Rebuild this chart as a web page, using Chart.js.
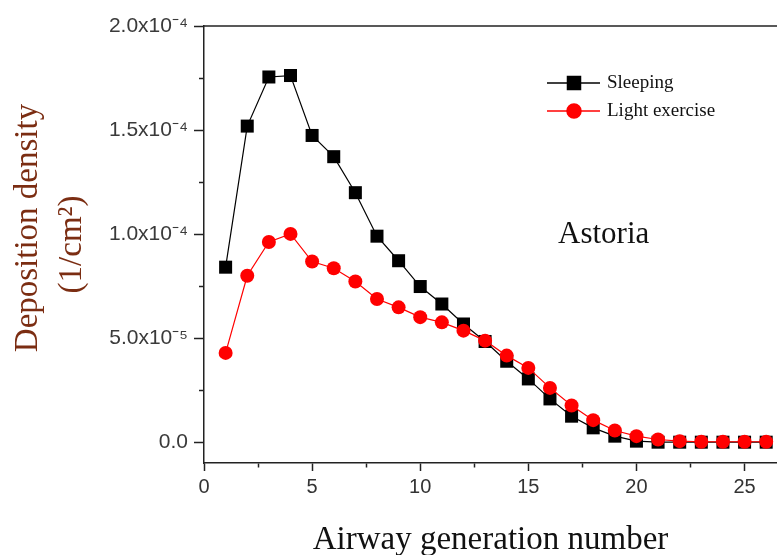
<!DOCTYPE html>
<html>
<head>
<meta charset="utf-8">
<script src="https://cdn.jsdelivr.net/npm/chart.js@4/dist/chart.umd.min.js"></script>
<style>
  html, body { margin: 0; padding: 0; background: #fff; }
  #wrap { width: 777px; height: 555px; }
</style>
</head>
<body>
<div id="wrap"><canvas id="chart" width="777" height="555"></canvas></div>
<script>
// airway generation 1..26
const generations = [1, 2, 3, 4, 5, 6, 7, 8, 9, 10, 11, 12, 13, 14, 15, 16, 17, 18, 19, 20, 21, 22, 23, 24, 25, 26];

// deposition density (1/cm^2)
const sleeping = [8.41e-5, 1.519e-4, 1.755e-4, 1.762e-4, 1.474e-4, 1.372e-4, 1.199e-4, 9.9e-5, 8.72e-5, 7.48e-5,
  6.64e-5, 5.68e-5, 4.84e-5, 3.89e-5, 3.04e-5, 2.08e-5, 1.25e-5, 6.9e-6, 2.9e-6, 5e-7,
  0, 0, 0, 0, 0, 0];
const lightExercise = [4.29e-5, 8.0e-5, 9.62e-5, 1.001e-4, 8.68e-5, 8.36e-5, 7.72e-5, 6.88e-5, 6.48e-5, 6.01e-5,
  5.76e-5, 5.36e-5, 4.88e-5, 4.16e-5, 3.57e-5, 2.61e-5, 1.76e-5, 1.06e-5, 5.6e-6, 2.9e-6,
  1.3e-6, 5e-7, 2e-7, 2e-7, 2e-7, 2e-7];

const seriesNames = ["Sleeping", "Light exercise"];

const xTickValues = [0, 5, 10, 15, 20, 25];
const xTickLabels = ["0", "5", "10", "15", "20", "25"];
const yTickValues = [0, 5e-5, 1e-4, 1.5e-4, 2e-4];
const yTickLabels = ["0.0", "5.0x10\u207B\u2075", "1.0x10\u207B\u2074", "1.5x10\u207B\u2074", "2.0x10\u207B\u2074"];

const noteText = "Astoria";

// majors plus a minor tick half-way between each pair
function withMinors(majors) {
    let out = [];
    majors.forEach((v, i) => {
        out.push({ value: v, major: true });
        if (i < majors.length - 1) out.push({ value: (v + majors[i + 1]) / 2, major: false });
    });
    return out;
}

function labelFor(values, labels, v) {
    const i = values.findIndex(t => Math.abs(t - v) < Math.abs(values[1] - values[0]) * 1e-6);
    return i >= 0 ? labels[i] : "";
}

function isMinor(values, v) {
    return labelFor(values, values.map(() => "x"), v) === "";
}

const overlay = {
    id: "overlay",
    afterDraw(chart) {
        const ctx = chart.ctx;
        const area = chart.chartArea;
        ctx.save();

        // top frame line
        ctx.strokeStyle = "#222";
        ctx.lineWidth = 1.5;
        ctx.beginPath();
        ctx.moveTo(area.left, area.top);
        ctx.lineTo(area.right, area.top);
        ctx.stroke();

        // site name
        ctx.fillStyle = "#111";
        ctx.font = "31px 'Liberation Serif', serif";
        ctx.textBaseline = "alphabetic";
        ctx.textAlign = "left";
        ctx.fillText(noteText, area.left + 354, area.top + 217);

        // legend
        chart.data.datasets.forEach((ds, i) => {
            const y = area.top + 57 + i * 28;
            const x0 = area.left + 343;
            ctx.strokeStyle = ds.borderColor;
            ctx.lineWidth = 1.5;
            ctx.beginPath();
            ctx.moveTo(x0, y);
            ctx.lineTo(x0 + 53, y);
            ctx.stroke();
            Chart.helpers.drawPoint(ctx, {
                pointStyle: ds.pointStyle,
                radius: ds.pointRadius,
                borderWidth: 1
            }, x0 + 27, y);
            ctx.fillStyle = ds.backgroundColor;
            ctx.fill();
            ctx.fillStyle = "#111";
            ctx.font = "19px 'Liberation Serif', serif";
            ctx.textBaseline = "middle";
            ctx.fillText(ds.label, x0 + 60, y);
        });
        ctx.restore();
    }
};

document.addEventListener("DOMContentLoaded", () => {
    const ctx = document.getElementById("chart").getContext("2d");

    new Chart(ctx, {
        type: "line",
        data: {
            datasets: [{
                label: seriesNames[0],
                data: generations.map((g, i) => ({ x: g, y: sleeping[i] })),
                borderColor: "#000",
                backgroundColor: "#000",
                pointBackgroundColor: "#000",
                pointBorderColor: "#000",
                pointStyle: "rect",
                pointRadius: 9.2,
                pointBorderWidth: 0,
                borderWidth: 1.2,
                order: 1
            }, {
                label: seriesNames[1],
                data: generations.map((g, i) => ({ x: g, y: lightExercise[i] })),
                borderColor: "#ff0000",
                backgroundColor: "#ff0000",
                pointBackgroundColor: "#ff0000",
                pointBorderColor: "#ff0000",
                pointStyle: "circle",
                pointRadius: 7,
                pointBorderWidth: 0,
                borderWidth: 1.2,
                order: 0
            }]
        },
        options: {
            responsive: false,
            animation: false,
            layout: { autoPadding: false, padding: { top: 26, left: 0, right: 0, bottom: 0 } },
            plugins: {
                legend: { display: false },
                tooltip: { enabled: false }
            },
            scales: {
                x: {
                    type: "linear",
                    min: 0,
                    max: 26.5,
                    afterBuildTicks: s => { s.ticks = withMinors(xTickValues); },
                    afterFit: s => { s.height = 92; },
                    border: { color: "#222", width: 1.5 },
                    grid: {
                        drawOnChartArea: false,
                        tickLength: 8,
                        tickColor: "#222",
                        tickWidth: 1.5,
                        tickBorderDash: c => isMinor(xTickValues, c.tick.value) ? [4, 100] : []
                    },
                    ticks: {
                        padding: 4,
                        color: "#333",
                        font: { family: "'Liberation Sans', Arial, sans-serif", size: 20 },
                        maxRotation: 0,
                        autoSkip: false,
                        callback: v => labelFor(xTickValues, xTickLabels, v)
                    },
                    title: {
                        display: true,
                        text: "Airway generation number",
                        color: "#111",
                        font: { family: "'Liberation Serif', serif", size: 33, lineHeight: 1 },
                        padding: { top: 0, bottom: -2 }
                    }
                },
                y: {
                    min: -1e-5,
                    max: 2e-4,
                    afterBuildTicks: s => { s.ticks = withMinors(yTickValues); },
                    afterFit: s => { s.width = 204; },
                    border: { color: "#222", width: 1.5 },
                    grid: {
                        drawOnChartArea: false,
                        tickLength: 10,
                        tickColor: "#222",
                        tickWidth: 1.5,
                        tickBorderDash: c => isMinor(yTickValues, c.tick.value) ? [5, 5] : [],
                        tickBorderDashOffset: c => isMinor(yTickValues, c.tick.value) ? 5 : 0
                    },
                    ticks: {
                        padding: 6,
                        color: "#3a3a3a",
                        font: { family: "'Liberation Sans', Arial, sans-serif", size: 21 },
                        autoSkip: false,
                        callback: v => labelFor(yTickValues, yTickLabels, v)
                    },
                    title: {
                        display: true,
                        text: ["    Deposition density", "(1/cm\u00B2)"],
                        color: "#7b2d12",
                        font: { family: "'Liberation Serif', serif", size: 33, lineHeight: 1.33 },
                        padding: { top: 6, bottom: 0 }
                    }
                }
            }
        },
        plugins: [overlay]
    });
});
</script>
</body>
</html>
